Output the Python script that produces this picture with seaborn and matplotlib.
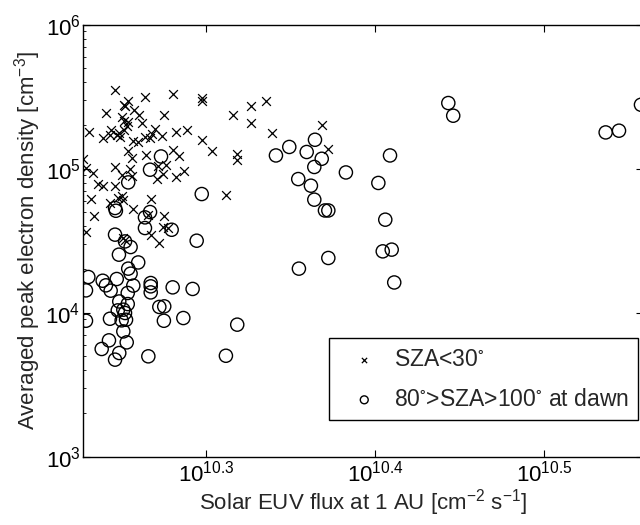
# -*- coding: utf-8 -*-
# Averaged peak electron density vs solar EUV flux (log-log scatter)
import numpy as np
import pandas as pd
import matplotlib
matplotlib.use("Agg")
import matplotlib.pyplot as plt
import matplotlib.ticker as mticker
import seaborn as sns

# values, stored as log10
# SZA < 30 deg (crosses)
sza30_logflux = [10.2462, 10.2639, 10.2803, 10.2515, 10.2521, 10.2540, 10.2576, 10.2408,
                 10.2605, 10.2751, 10.2501, 10.2515, 10.2540, 10.2620, 10.2531, 10.2517,
                 10.2436, 10.2309, 10.2487, 10.2698, 10.2679, 10.2822, 10.2886, 10.2975,
                 10.2978, 10.3162, 10.3266, 10.3355, 10.3266, 10.3389, 10.2389, 10.2432,
                 10.2491, 10.2570, 10.2599, 10.2639, 10.2669, 10.2738, 10.2975, 10.3037,
                 10.3185, 10.3185, 10.2537, 10.2564, 10.2643, 10.2803, 10.2842, 10.2274,
                 10.2290, 10.2333, 10.2462, 10.2550, 10.2501, 10.2564, 10.2718, 10.2763,
                 10.2747, 10.2708, 10.2870, 10.2821, 10.2363, 10.2389, 10.2462, 10.2318,
                 10.2673, 10.3118, 10.2432, 10.2481, 10.2501, 10.2511, 10.2570, 10.2337,
                 10.2659, 10.2753, 10.2744, 10.2777, 10.2290, 10.2507, 10.2521, 10.2675,
                 10.2724, 10.3685, 10.3724, 10.2472]
sza30_logne = [5.549, 5.495, 5.519, 5.444, 5.433, 5.467, 5.410, 5.387,
               5.375, 5.375, 5.356, 5.328, 5.322, 5.317, 5.294, 5.271,
               5.271, 5.255, 5.248, 5.278, 5.243, 5.255, 5.271, 5.467,
               5.491, 5.375, 5.438, 5.467, 5.317, 5.248, 5.213, 5.236,
               5.220, 5.190, 5.183, 5.220, 5.213, 5.229, 5.201, 5.120,
               5.104, 5.063, 5.120, 5.074, 5.097, 5.127, 5.090, 5.067,
               5.005, 4.970, 5.012, 4.998, 4.958, 4.947, 5.021, 5.028,
               4.963, 4.928, 4.981, 4.942, 4.894, 4.877, 4.877, 4.792,
               4.792, 4.815, 4.762, 4.797, 4.808, 4.785, 4.720, 4.674,
               4.681, 4.674, 4.595, 4.588, 4.558, 4.519, 4.502, 4.542,
               4.484, 5.306, 5.137, 5.236]

# 80 deg > SZA > 100 deg at dawn (open circles)
dawn_logflux = [10.2734, 10.2669, 10.2540, 10.2975, 10.3414, 10.2462, 10.2467, 10.2669,
                10.2639, 10.2639, 10.2797, 10.2462, 10.2521, 10.2554, 10.2945, 10.2485,
                10.2599, 10.2540, 10.2554, 10.2304, 10.2389, 10.2408, 10.2472, 10.2570,
                10.2290, 10.2436, 10.2673, 10.2673, 10.2673, 10.2803, 10.2921, 10.2537,
                10.2487, 10.2537, 10.2478, 10.2511, 10.2521, 10.2724, 10.2753, 10.2290,
                10.2432, 10.2501, 10.2527, 10.2751, 10.2866, 10.3185, 10.2511, 10.2426,
                10.2531, 10.2383, 10.2487, 10.2462, 10.2659, 10.3118, 10.4434, 10.4463,
                10.5365, 10.5444, 10.5574, 10.3493, 10.3596, 10.3645, 10.3685, 10.3641,
                10.3546, 10.3621, 10.3641, 10.3704, 10.3724, 10.3828, 10.4089, 10.4020,
                10.4061, 10.4046, 10.4099, 10.3724, 10.3550, 10.4114]
dawn_logne = [5.085, 4.993, 4.905, 4.824, 5.092, 4.727, 4.708, 4.699,
              4.662, 4.588, 4.576, 4.542, 4.495, 4.456, 4.500, 4.403,
              4.349, 4.306, 4.271, 4.248, 4.222, 4.190, 4.234, 4.188,
              4.155, 4.153, 4.206, 4.183, 4.141, 4.176, 4.165, 4.137,
              4.078, 4.060, 4.016, 4.021, 3.998, 4.040, 4.044, 3.944,
              3.958, 3.947, 3.951, 3.944, 3.963, 3.917, 3.870, 3.808,
              3.794, 3.748, 3.720, 3.674, 3.697, 3.701, 5.456, 5.368,
              5.252, 5.264, 5.444, 5.151, 5.116, 5.201, 5.069, 5.012,
              4.928, 4.882, 4.785, 4.710, 4.710, 4.974, 5.092, 4.901,
              4.646, 4.426, 4.438, 4.380, 4.306, 4.210]

xtick_exp = [10.3, 10.4, 10.5]

df30 = pd.DataFrame({'flux': 10 ** np.array(sza30_logflux), 'ne': 10 ** np.array(sza30_logne)})
dfdawn = pd.DataFrame({'flux': 10 ** np.array(dawn_logflux), 'ne': 10 ** np.array(dawn_logne)})

sns.set_style("ticks")
plt.rcParams['font.family'] = ['Liberation Sans', 'DejaVu Sans']
plt.rcParams['mathtext.default'] = 'regular'
plt.rcParams['axes.linewidth'] = 1.0
plt.rcParams['axes.edgecolor'] = 'black'

fig = plt.figure(figsize=(6.4, 5.25), dpi=100)
# right spine sits just past the image edge, as in the cropped original
ax = fig.add_axes([82.6 / 640, 1 - 456.7 / 525, (643 - 82.6) / 640, 432 / 525])

sns.scatterplot(data=df30, x='flux', y='ne', marker='x', color='k', s=40,
                linewidth=0.9, ax=ax, label=r'SZA<30$^{\circ}$')
sns.scatterplot(data=dfdawn, x='flux', y='ne', marker='o', s=90,
                facecolor='none', edgecolor='k', linewidth=1.0, ax=ax,
                label=r'80$^{\circ}$>SZA>100$^{\circ}$ at dawn')

ax.set_xscale('log')
ax.set_yscale('log')
ax.set_xlim(10 ** 10.227, 10 ** 10.5586)
ax.set_ylim(1e3, 1e6)

ax.xaxis.set_major_locator(mticker.FixedLocator([10 ** e for e in xtick_exp]))
ax.xaxis.set_major_formatter(mticker.FuncFormatter(lambda v, p: r'$10^{%.1f}$' % np.log10(v)))
ax.xaxis.set_minor_locator(mticker.NullLocator())
ax.yaxis.set_major_locator(mticker.LogLocator(base=10))
ax.yaxis.set_minor_locator(mticker.LogLocator(base=10, subs=np.arange(2, 10)))
ax.yaxis.set_minor_formatter(mticker.NullFormatter())

ax.tick_params(which='both', direction='in', top=True, right=True, colors='k')
ax.tick_params(which='major', length=5, width=0.8, labelsize=16)
ax.tick_params(which='minor', length=2.5, width=0.6)
ax.tick_params(axis='y', pad=1.5)
ax.tick_params(axis='x', pad=2.5)

ax.set_xlabel(r'Solar EUV flux at 1 AU [cm$^{-2}$ s$^{-1}$]', fontsize=16, labelpad=1)
ax.set_ylabel(r'Averaged peak electron density [cm$^{-3}$]', fontsize=16, labelpad=2)

leg = ax.legend(loc='lower right', bbox_to_anchor=((638 - 82.6) / 560.4, (456.7 - 420) / 432),
                fontsize=16.5, markerscale=0.6, fancybox=False, framealpha=1, edgecolor='k',
                handlelength=2.3, handletextpad=0.15, borderpad=0.4, labelspacing=0.75,
                borderaxespad=0)
leg.get_frame().set_linewidth(1.0)

fig.savefig("out.png", dpi=100)
